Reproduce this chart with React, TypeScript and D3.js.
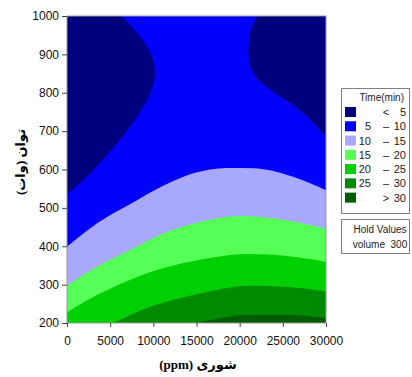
import * as d3 from "d3";
import { useEffect, useRef } from "react";

const salinityTicks = [0, 5000, 10000, 15000, 20000, 25000, 30000];
const powerTicks = [200, 300, 400, 500, 600, 700, 800, 900, 1000];

// legend rows (Time in min)
const legendLow = ["", "5", "10", "15", "20", "25", ""];
const legendSign = ["<", "–", "–", "–", "–", "–", ">"];
const legendHigh = ["5", "10", "15", "20", "25", "30", "30"];
const bandColors = ["#00007e", "#0000ff", "#a8a8ff", "#55ff55", "#00d000", "#008a00", "#005a00"];

// time = 5 contour, left lobe (power -> salinity)
const lobeLeftPower = [534, 599, 668, 737, 797, 851, 885, 946, 1000];
const lobeLeftSalinity = [0, 3060, 5760, 8080, 9620, 10190, 10000, 8460, 6330];
// time = 5 contour, right lobe (power -> salinity)
const lobeRightPower = [685, 768, 810, 851, 903, 946, 1000];
const lobeRightSalinity = [30000, 26200, 23400, 21580, 21000, 21120, 21970];

// lower contours (salinity -> power)
const c10Salinity = [0, 3490, 7350, 11210, 14630, 18500, 21600, 26200, 30000];
const c10Power = [399, 460, 510, 558, 590, 604, 603, 581, 546];
const c15Salinity = [0, 3490, 7350, 11210, 14800, 20210, 24450, 30000];
const c15Power = [297, 347, 391, 434, 460, 479, 471, 445];
const c20Salinity = [0, 3490, 7350, 11210, 14800, 20980, 25230, 30000];
const c20Power = [228, 273, 313, 343, 362, 380, 375, 359];
const c25Salinity = [5400, 9280, 13150, 16500, 20980, 25610, 30000];
const c25Power = [200, 239, 265, 282, 297, 294, 282];
const c30Salinity = [14800, 17500, 21000, 25600, 30000];
const c30Power = [200, 212, 221, 221, 213];

const zip = (a: number[], b: number[]) => a.map((v, i) => [v, b[i]] as [number, number]);

const FONT = "'Liberation Sans', Arial, sans-serif";

export default function App() {
  const xAxisRef = useRef<SVGGElement>(null);
  const yAxisRef = useRef<SVGGElement>(null);

  const x = d3.scaleLinear().domain([0, 30000]).range([67, 326]);
  const y = d3.scaleLinear().domain([200, 1000]).range([323, 16]);

  useEffect(() => {
    if (!xAxisRef.current || !yAxisRef.current) return;
    const styleAxis = (g: any) => {
      g.select(".domain").remove();
      g.selectAll("line").attr("stroke", "#444");
      g.selectAll("text")
        .attr("fill", "#111")
        .style("font-family", FONT)
        .style("font-size", "12px");
    };
    d3.select(xAxisRef.current)
      .call(
        d3.axisBottom(x).tickValues(salinityTicks).tickSize(4).tickPadding(9).tickFormat(d3.format("d"))
      )
      .call(styleAxis);
    d3.select(yAxisRef.current)
      .call(d3.axisLeft(y).tickValues(powerTicks).tickSize(5).tickPadding(3).tickFormat(d3.format("d")))
      .call(styleAxis);
  }, []);

  const lobeLeft = d3
    .area<[number, number]>()
    .curve(d3.curveMonotoneY)
    .y((d) => y(d[0]))
    .x0(x(0))
    .x1((d) => x(d[1]));
  const lobeRight = d3
    .area<[number, number]>()
    .curve(d3.curveMonotoneY)
    .y((d) => y(d[0]))
    .x0((d) => x(d[1]))
    .x1(x(30000));
  const band = d3
    .area<[number, number]>()
    .curve(d3.curveMonotoneX)
    .x((d) => x(d[0]))
    .y0(y(200))
    .y1((d) => y(d[1]));

  const lower = [
    { pts: zip(c10Salinity, c10Power), color: bandColors[2] },
    { pts: zip(c15Salinity, c15Power), color: bandColors[3] },
    { pts: zip(c20Salinity, c20Power), color: bandColors[4] },
    { pts: zip(c25Salinity, c25Power), color: bandColors[5] },
    { pts: zip(c30Salinity, c30Power), color: bandColors[6] },
  ];

  const rowY = (i: number) => 112 + i * 14.27;

  return (
    <svg
      width={412}
      height={377}
      style={{ position: "absolute", left: 0, top: 0, background: "#fff" }}
    >
      <defs>
        <clipPath id="plot-clip">
          <rect x={x(0)} y={y(1000)} width={x(30000) - x(0)} height={y(200) - y(1000)} />
        </clipPath>
      </defs>

      <g clipPath="url(#plot-clip)">
        <rect
          x={x(0)}
          y={y(1000)}
          width={x(30000) - x(0)}
          height={y(200) - y(1000)}
          fill={bandColors[1]}
        />
        <path d={lobeLeft(zip(lobeLeftPower, lobeLeftSalinity)) ?? ""} fill={bandColors[0]} />
        <path d={lobeRight(zip(lobeRightPower, lobeRightSalinity)) ?? ""} fill={bandColors[0]} />
        {lower.map((b, i) => (
          <path key={i} d={band(b.pts) ?? ""} fill={b.color} />
        ))}
      </g>
      <rect
        x={x(0)}
        y={y(1000)}
        width={x(30000) - x(0)}
        height={y(200) - y(1000)}
        fill="none"
        stroke="#999"
        strokeWidth={1}
      />

      <g ref={xAxisRef} transform={`translate(0,${y(200)})`} />
      <g ref={yAxisRef} transform={`translate(${x(0)},0)`} />

      <text
        x={198}
        y={369}
        textAnchor="middle"
        direction="rtl"
        fontWeight="bold"
        fontSize={13}
        fontFamily="'Liberation Serif', 'DejaVu Sans', serif"
        fill="#000"
      >
        شوری (ppm)
      </text>
      <text
        transform="translate(25,162) rotate(-90)"
        textAnchor="middle"
        direction="rtl"
        fontWeight="bold"
        fontSize={13}
        fontFamily="'Liberation Serif', 'DejaVu Sans', serif"
        fill="#000"
      >
        توان (وات)
      </text>

      {/* legend */}
      <rect x={341.5} y={88.5} width={68} height={125} fill="#fff" stroke="#808080" />
      <text x={404} y={101} textAnchor="end" fontSize={10} fontFamily={FONT} fill="#222">
        Time(min)
      </text>
      {bandColors.map((c, i) => (
        <g key={c} fontSize={11} fontFamily={FONT} fill="#222">
          <rect x={345} y={rowY(i) - 5} width={11} height={10} fill={c} />
          <text x={371} y={rowY(i) + 4} textAnchor="end">
            {legendLow[i]}
          </text>
          <text x={386} y={rowY(i) + 4} textAnchor="middle">
            {legendSign[i]}
          </text>
          <text x={406} y={rowY(i) + 4} textAnchor="end">
            {legendHigh[i]}
          </text>
        </g>
      ))}

      <rect x={341.5} y={219.5} width={68} height={34} fill="#fff" stroke="#808080" />
      <text x={380} y={233} textAnchor="middle" fontSize={10} fontFamily={FONT} fill="#222">
        Hold Values
      </text>
      <text
        x={380}
        y={248}
        textAnchor="middle"
        fontSize={10}
        fontFamily={FONT}
        fill="#222"
        style={{ whiteSpace: "pre" }}
      >
        {"volume  300"}
      </text>
    </svg>
  );
}
